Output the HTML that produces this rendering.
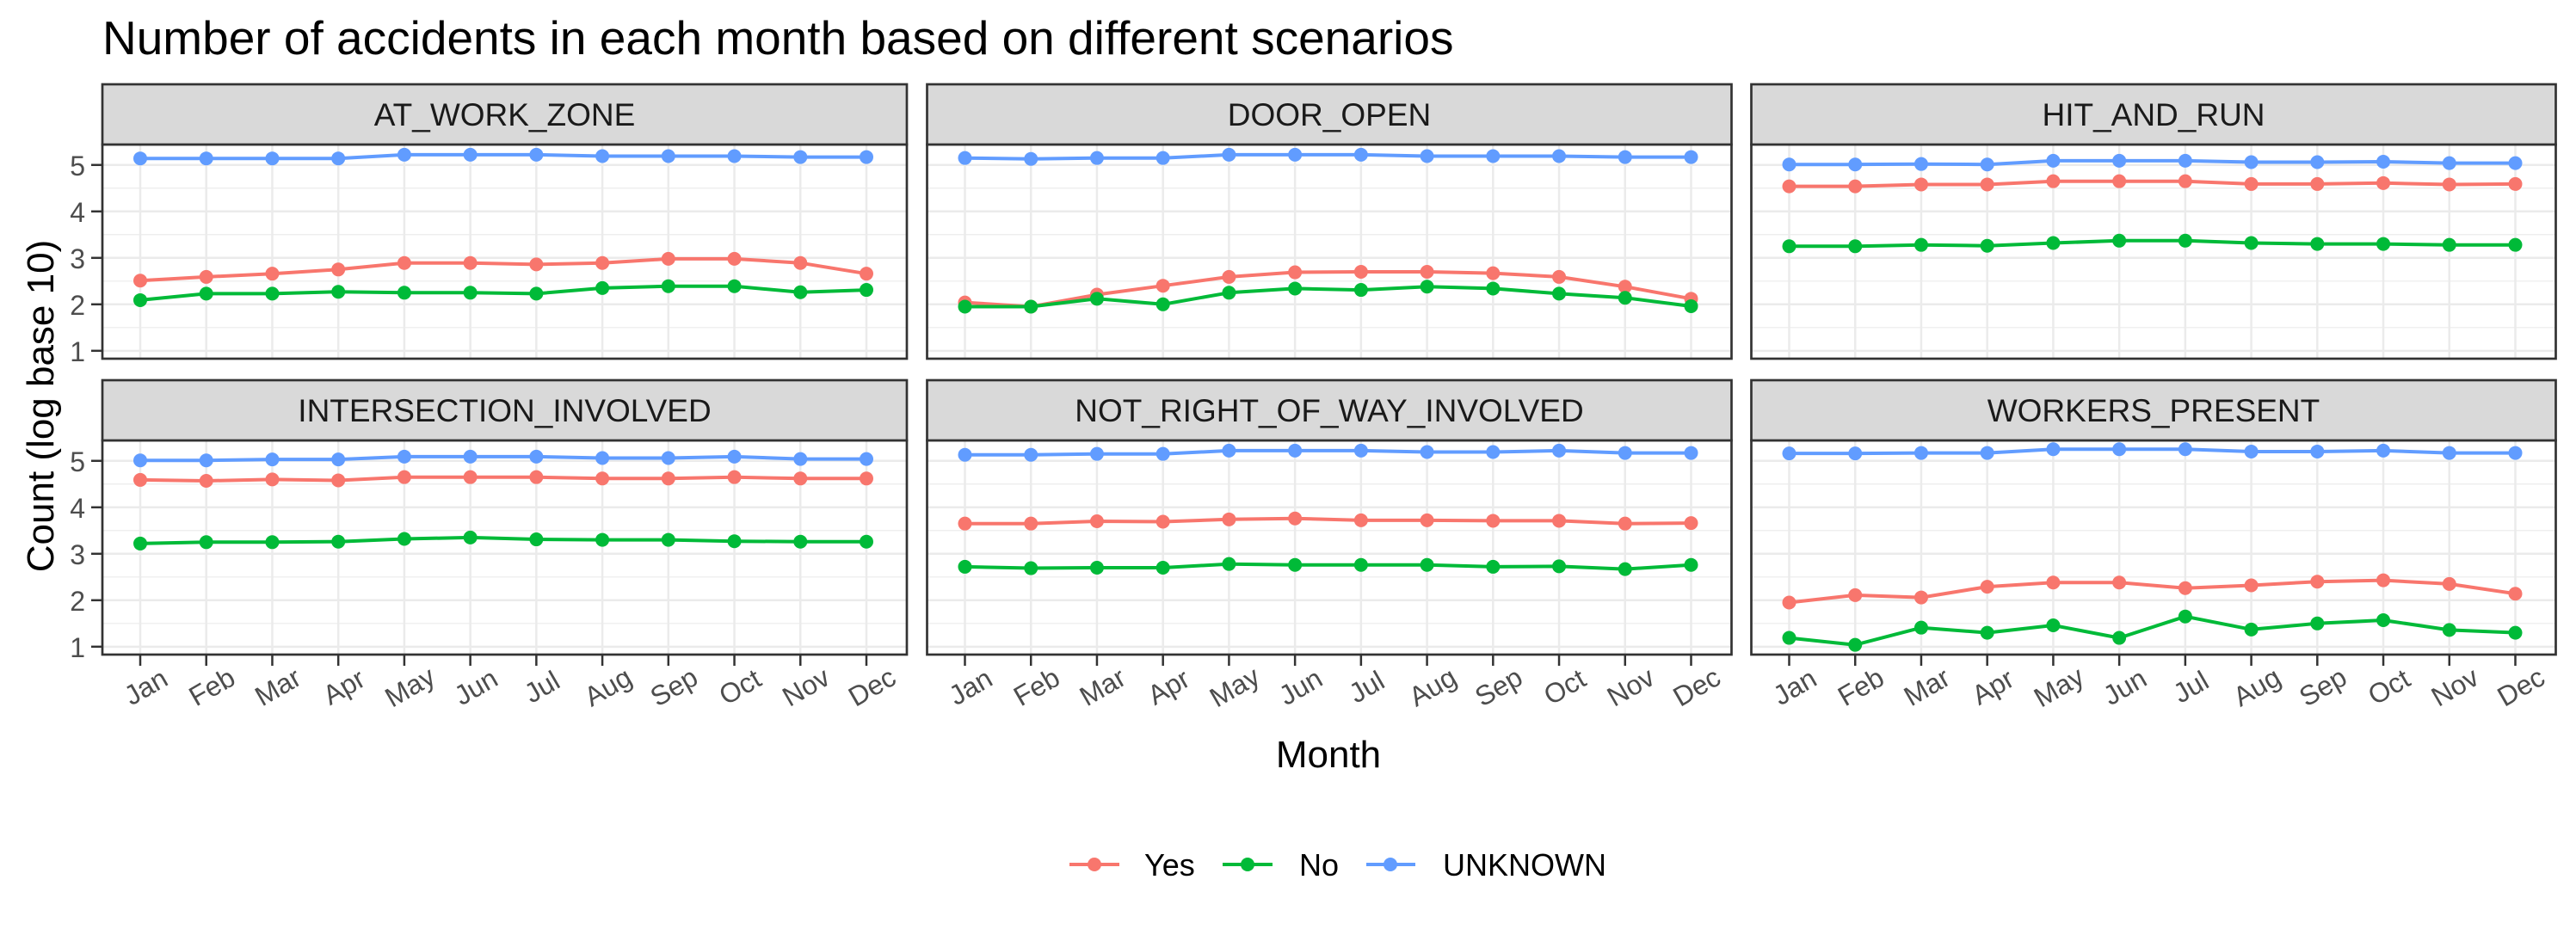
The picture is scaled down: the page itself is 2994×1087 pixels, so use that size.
<!DOCTYPE html>
<html><head><meta charset="utf-8"><style>
html,body{margin:0;padding:0;background:#fff;}
svg{display:block;font-family:"Liberation Sans",Arial,sans-serif;}
</style></head>
<body>
<svg id="chart" width="2994" height="1087" viewBox="0 0 2994 1087" xmlns="http://www.w3.org/2000/svg">
<rect width="2994" height="1087" fill="#fff"/>
<text x="119" y="63" font-size="55" fill="#000">Number of accidents in each month based on different scenarios</text>
<text transform="translate(62,472) rotate(-90)" text-anchor="middle" font-size="44" fill="#000">Count (log base 10)</text>
<text x="1544" y="892" text-anchor="middle" font-size="44" fill="#000">Month</text>
<g id="panels"></g>
<g>
  <g>
    <line x1="1243" y1="1005" x2="1301" y2="1005" stroke="#F8766D" stroke-width="4"/>
    <circle cx="1272" cy="1005" r="8" fill="#F8766D"/>
    <text x="1330" y="1018" font-size="36">Yes</text>
  </g>
  <g>
    <line x1="1421" y1="1005" x2="1479" y2="1005" stroke="#00BA38" stroke-width="4"/>
    <circle cx="1450" cy="1005" r="8" fill="#00BA38"/>
    <text x="1510" y="1018" font-size="36">No</text>
  </g>
  <g>
    <line x1="1588" y1="1005" x2="1645" y2="1005" stroke="#619CFF" stroke-width="4"/>
    <circle cx="1616" cy="1005" r="8" fill="#619CFF"/>
    <text x="1677" y="1018" font-size="36">UNKNOWN</text>
  </g>
</g>
</svg>
<script>
const months = ["Jan","Feb","Mar","Apr","May","Jun","Jul","Aug","Sep","Oct","Nov","Dec"];
const scenarios = ["AT_WORK_ZONE","DOOR_OPEN","HIT_AND_RUN","INTERSECTION_INVOLVED","NOT_RIGHT_OF_WAY_INVOLVED","WORKERS_PRESENT"];
const yTicks = [1,2,3,4,5];
const yesValues = [
 [2.51,2.59,2.66,2.75,2.89,2.89,2.86,2.89,2.98,2.98,2.89,2.66],
 [2.04,1.95,2.21,2.40,2.59,2.69,2.70,2.70,2.67,2.59,2.38,2.12],
 [4.54,4.54,4.58,4.58,4.65,4.65,4.65,4.59,4.59,4.61,4.58,4.59],
 [4.59,4.57,4.60,4.58,4.65,4.65,4.65,4.62,4.62,4.65,4.62,4.62],
 [3.65,3.65,3.70,3.69,3.74,3.76,3.72,3.72,3.71,3.71,3.65,3.66],
 [1.95,2.11,2.06,2.29,2.38,2.38,2.26,2.32,2.40,2.43,2.35,2.14]
];
const noValues = [
 [2.09,2.23,2.23,2.27,2.25,2.25,2.23,2.35,2.39,2.39,2.26,2.31],
 [1.95,1.95,2.12,2.00,2.25,2.34,2.31,2.38,2.34,2.23,2.14,1.96],
 [3.25,3.25,3.28,3.26,3.32,3.37,3.37,3.32,3.30,3.30,3.28,3.28],
 [3.22,3.25,3.25,3.26,3.32,3.35,3.31,3.30,3.30,3.27,3.26,3.26],
 [2.72,2.69,2.70,2.70,2.78,2.76,2.76,2.76,2.72,2.73,2.67,2.76],
 [1.19,1.04,1.41,1.30,1.46,1.19,1.65,1.37,1.50,1.57,1.36,1.30]
];
const unknownValues = [
 [5.14,5.14,5.14,5.14,5.22,5.22,5.22,5.19,5.19,5.19,5.17,5.17],
 [5.15,5.13,5.15,5.15,5.22,5.22,5.22,5.19,5.19,5.19,5.17,5.17],
 [5.01,5.01,5.02,5.01,5.09,5.09,5.09,5.06,5.06,5.07,5.04,5.04],
 [5.01,5.01,5.03,5.03,5.09,5.09,5.09,5.06,5.06,5.09,5.04,5.04],
 [5.13,5.13,5.15,5.15,5.22,5.22,5.22,5.19,5.19,5.22,5.17,5.17],
 [5.16,5.16,5.17,5.17,5.25,5.25,5.25,5.20,5.20,5.22,5.17,5.17]
];
const seriesColors = ["#F8766D","#00BA38","#619CFF"];
const seriesNames = ["yes","no","unknown"];

const NS = "http://www.w3.org/2000/svg";
const root = document.getElementById("panels");
const PW = 935, stripH = 70;
const colX = [119, 1077.5, 2035.5];
const rowTop = [98, 442];
const plotH = 249;
const yMin = 0.83, yMax = 5.44;
function mk(tag, attrs, parent){ const e=document.createElementNS(NS,tag); for(const k in attrs) e.setAttribute(k,attrs[k]); parent.appendChild(e); return e; }

scenarios.forEach((sc, p) => {
  const c = p % 3, r = Math.floor(p / 3);
  const x0 = colX[c], sTop = rowTop[r], y0 = sTop + stripH, y1 = y0 + plotH;
  const xs = i => x0 + 44 + i * (PW - 91) / (months.length - 1);
  const ys = v => y1 - (v - yMin) / (yMax - yMin) * plotH;
  const g = mk("g", {}, root);
  
  
  for (let v = 1.5; v < yMax; v += 1) mk("line",{x1:x0,x2:x0+PW,y1:ys(v),y2:ys(v),stroke:"#EBEBEB","stroke-width":1.2},g);
  yTicks.forEach(v => mk("line",{x1:x0,x2:x0+PW,y1:ys(v),y2:ys(v),stroke:"#EBEBEB","stroke-width":2.5},g));
  months.forEach((m,i) => mk("line",{x1:xs(i),x2:xs(i),y1:y0,y2:y1,stroke:"#EBEBEB","stroke-width":2.5},g));
  [yesValues, noValues, unknownValues].forEach((arr, s) => {
    const vals = arr[p];
    const sg = mk("g", {}, g);
    
    
    const pts = vals.map((v,i) => xs(i).toFixed(1) + "," + ys(v).toFixed(1)).join(" ");
    mk("polyline",{points:pts,fill:"none",stroke:seriesColors[s],"stroke-width":4,"stroke-linejoin":"round"},sg);
    vals.forEach((v,i) => {
      const pt = mk("circle",{cx:xs(i),cy:ys(v),r:8,fill:seriesColors[s]},sg);
      
      
    });
  });
  mk("rect",{x:x0,y:y0,width:PW,height:plotH,fill:"none",stroke:"#333333","stroke-width":2.7},g);
  const st = mk("g", {}, g);
  
  
  mk("rect",{x:x0,y:sTop,width:PW,height:stripH,fill:"#D9D9D9",stroke:"#333333","stroke-width":2.7},st);
  const tt = mk("text",{x:x0+PW/2,y:sTop+48,"text-anchor":"middle","font-size":37,fill:"#1A1A1A"},st);
  tt.textContent = sc;
  if (c === 0) {
    const ya = mk("g", {}, g);
    
    
    yTicks.forEach(v => {
      mk("line",{x1:x0-13,x2:x0,y1:ys(v),y2:ys(v),stroke:"#333333","stroke-width":2.5},ya);
      const t = mk("text",{x:x0-20,y:ys(v)+12,"text-anchor":"end","font-size":32,fill:"#4D4D4D"},ya);
      t.textContent = v;
    });
  }
  if (r === 1) {
    const xa = mk("g", {}, g);
    
    
    months.forEach((m,i) => {
      mk("line",{x1:xs(i),x2:xs(i),y1:y1,y2:y1+13,stroke:"#333333","stroke-width":2.5},xa);
      const cx = xs(i) + 12, cy = 808;
      const t = mk("text",{x:cx,y:cy,"text-anchor":"middle","font-size":32,fill:"#4D4D4D",transform:`rotate(-30 ${cx} ${cy})`},xa);
      t.textContent = m;
    });
  }
});
</script>
</body></html>
